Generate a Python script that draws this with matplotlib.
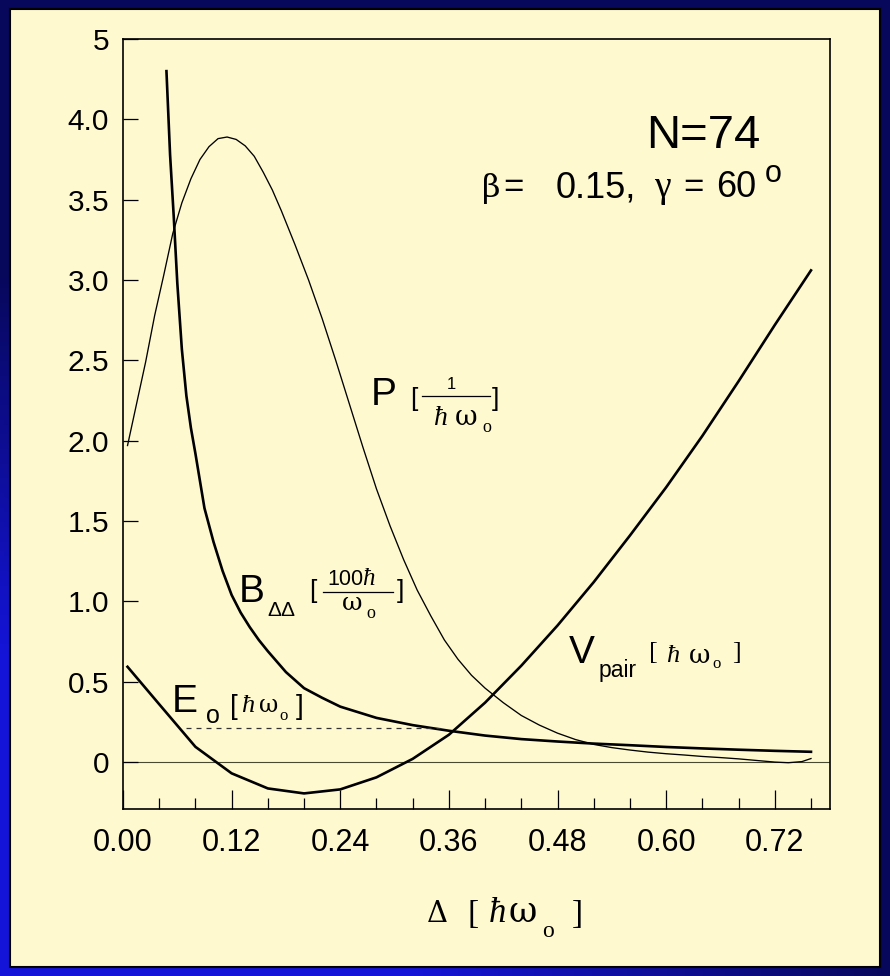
import numpy as np
import matplotlib
matplotlib.use("Agg")
import matplotlib.pyplot as plt
from matplotlib.lines import Line2D
from matplotlib.patches import Rectangle

# ---------------- data ----------------
P_x = [0.005, 0.015, 0.025, 0.035, 0.045, 0.055, 0.065, 0.075, 0.085, 0.095, 0.105,
       0.115, 0.125, 0.135, 0.145, 0.155, 0.165, 0.175, 0.19, 0.205, 0.22, 0.235,
       0.25, 0.265, 0.28, 0.295, 0.31, 0.325, 0.34, 0.355, 0.37, 0.385, 0.40, 0.42,
       0.44, 0.46, 0.48, 0.50, 0.52, 0.54, 0.56, 0.58, 0.60, 0.62, 0.64, 0.66, 0.68,
       0.70, 0.72, 0.735, 0.75, 0.76]
P_y = [1.97, 2.23, 2.49, 2.78, 3.03, 3.29, 3.48, 3.63, 3.75, 3.83, 3.88,
       3.89, 3.875, 3.835, 3.77, 3.67, 3.56, 3.43, 3.22, 3.00, 2.76, 2.50,
       2.23, 1.96, 1.70, 1.47, 1.26, 1.07, 0.91, 0.76, 0.64, 0.54, 0.46, 0.37,
       0.29, 0.23, 0.18, 0.14, 0.11, 0.09, 0.075, 0.062, 0.052, 0.044, 0.035, 0.028, 0.02,
       0.01, 0.0, -0.004, 0.003, 0.022]

B_x = [0.048, 0.052, 0.056, 0.06, 0.065, 0.07, 0.075, 0.08, 0.09, 0.10, 0.11, 0.12,
       0.13, 0.14, 0.15, 0.16, 0.18, 0.20, 0.22, 0.24, 0.28, 0.32, 0.36, 0.40, 0.44,
       0.48, 0.52, 0.56, 0.60, 0.64, 0.68, 0.72, 0.76]
B_y = [4.30, 3.78, 3.40, 2.98, 2.57, 2.28, 2.08, 1.92, 1.58, 1.37, 1.19, 1.04,
       0.93, 0.84, 0.76, 0.69, 0.56, 0.46, 0.40, 0.345, 0.275, 0.23, 0.195, 0.165, 0.143,
       0.128, 0.115, 0.105, 0.094, 0.085, 0.077, 0.070, 0.064]

V_x = [0.005, 0.04, 0.08, 0.12, 0.16, 0.20, 0.24, 0.28, 0.32, 0.36, 0.40, 0.44, 0.48,
       0.52, 0.56, 0.60, 0.64, 0.68, 0.72, 0.76]
V_y = [0.593, 0.36, 0.095, -0.07, -0.164, -0.195, -0.17, -0.095, 0.02, 0.17, 0.37, 0.60,
       0.85, 1.12, 1.41, 1.71, 2.03, 2.37, 2.72, 3.06]

E0_x = [0.07, 0.35]
E0_level = 0.213

x_ticks = [0.00, 0.12, 0.24, 0.36, 0.48, 0.60, 0.72]
x_ticklabels = ["0.00", "0.12", "0.24", "0.36", "0.48", "0.60", "0.72"]
y_ticks = [0, 0.5, 1.0, 1.5, 2.0, 2.5, 3.0, 3.5, 4.0, 4.5]
y_ticklabels = ["0", "0.5", "1.0", "1.5", "2.0", "2.5", "3.0", "3.5", "4.0", "5"]

# ---------------- figure ----------------
W, H = 890, 976
fig = plt.figure(figsize=(W / 100, H / 100), dpi=100)
fig.patch.set_facecolor("#06065a")

# blue gradient background
bg = fig.add_axes([0, 0, 1, 1], zorder=-10)
gy, gx = np.mgrid[0:1:200j, 0:1:200j]
t = np.clip((gy * 1.6 - 0.45) * (1 - gx) * 1.6, 0, 1)
c0 = np.array([0.03, 0.03, 0.36])
c1 = np.array([0.08, 0.08, 0.85])
img = c0[None, None, :] * (1 - t[..., None]) + c1[None, None, :] * t[..., None]
bg.imshow(img, extent=[0, 1, 0, 1], origin="upper", aspect="auto")
bg.set_axis_off()

# yellow panel
panel = Rectangle((10 / W, 1 - 967 / H), (880 - 10) / W, (967 - 9) / H,
                  transform=fig.transFigure, facecolor="#FEF9CF",
                  edgecolor="black", linewidth=1.5, zorder=-5)
fig.patches.append(panel)

ax = fig.add_axes([123 / W, 1 - 809 / H, (830 - 123) / W, (809 - 39) / H])
ax.set_facecolor("none")

ax.axhline(0, color="#4a4a30", lw=0.8, zorder=1)
ax.plot(P_x, P_y, color="black", lw=0.95, solid_joinstyle="round")
ax.plot(B_x, B_y, color="black", lw=1.9, solid_joinstyle="round")
ax.plot(V_x, V_y, color="black", lw=1.9, solid_joinstyle="round")
ax.plot(E0_x, [E0_level, E0_level], color="#333333", lw=0.9, dashes=(4, 4))

ax.set_xlim(0, 0.781)
ax.set_ylim(-0.292, 4.5)
ax.set_xticks(x_ticks)
ax.set_xticklabels(x_ticklabels)
ax.set_xticks(np.arange(0, 0.77, 0.04), minor=True)
ax.set_yticks(y_ticks)
ax.set_yticklabels(y_ticklabels)

for s in ax.spines.values():
    s.set_linewidth(1.2)
    s.set_color("black")

ax.tick_params(axis="x", which="major", direction="in", length=13.5, width=0.9,
               pad=14, labelsize=22)
ax.tick_params(axis="x", which="minor", direction="in", length=8, width=0.9)
ax.tick_params(axis="y", which="major", direction="in", length=11, width=0.9,
               pad=10, labelsize=21.5)
for lab in ax.get_xticklabels() + ax.get_yticklabels():
    lab.set_fontfamily("Liberation Sans")


# ---------------- texts placed in pixel coordinates ----------------
def T(x, y, s, size, family="Liberation Sans", style="normal", ha="left"):
    fig.text(x / W, 1 - y / H, s, fontsize=size, family=family, style=style,
             ha=ha, va="baseline", color="black")


def HL(x1, x2, y, lw=0.9):
    fig.add_artist(Line2D([x1 / W, x2 / W], [1 - y / H, 1 - y / H],
                          transform=fig.transFigure, color="black", lw=lw))


SERIF = "Liberation Serif"
GREEK = "DejaVu Serif"

# N=74 and parameters
T(646, 148, "N=74", 34)
T(482, 197, "β", 23, family=GREEK)
T(503, 197, "=", 25)
T(556, 197, "0.15,", 26)
T(654, 197, "γ", 27, family=SERIF)
T(683, 197, "=", 25)
T(716, 197, "60", 26)
T(765, 182, "o", 22)

# P [1 / hbar omega_o]
T(371, 405, "P", 28)
T(410, 406, "[", 19)
T(451, 389, "1", 12, ha="center")
HL(421.7, 490, 395.7)
T(434, 425, "ħ", 20, family=SERIF, style="italic")
T(455, 425, "ω", 20, family=GREEK)
T(482, 432, "o", 13, family=SERIF)
T(492, 406, "]", 19)

# B_DD [100 hbar / omega_o]
T(239, 601.7, "B", 28)
T(267, 616, "ΔΔ", 15)
T(309, 598, "[", 19)
T(327, 585, "100", 15.5)
T(362, 585, "ħ", 18, family=SERIF, style="italic")
HL(323, 393, 591.7)
T(342, 610, "ω", 18, family=GREEK)
T(366, 618, "o", 13, family=SERIF)
T(397, 598, "]", 19)

# E_o [hbar omega_o]
T(172, 711.7, "E", 28)
T(205.7, 723.3, "o", 18)
T(229.7, 714, "[", 20)
T(240.7, 711.7, "ħ", 19, family=SERIF, style="italic")
T(259.5, 711.7, "ω", 17, family=GREEK)
T(279, 720, "o", 12, family=SERIF)
T(295.7, 714, "]", 20)

# V_pair [hbar omega_o]
T(569, 663.3, "V", 28)
T(598.3, 677, "pair", 16.5)
T(649, 659, "[", 19, family=SERIF)
T(665.7, 661.7, "ħ", 19, family=SERIF, style="italic")
T(689, 663.3, "ω", 19, family=GREEK)
T(712.3, 668.3, "o", 12, family=SERIF)
T(732.3, 659, "]", 19, family=SERIF)

# x-axis label  Delta [hbar omega_o]
T(427, 922, "Δ", 21, family=GREEK)
T(467, 922.7, "[", 24, family=SERIF)
T(489, 922, "ħ", 25, family=SERIF, style="italic")
T(509, 922, "ω", 25, family=GREEK)
T(542, 937, "o", 17, family=SERIF)
T(572, 922.7, "]", 24, family=SERIF)

fig.savefig("out.png", dpi=100, facecolor=fig.get_facecolor())
